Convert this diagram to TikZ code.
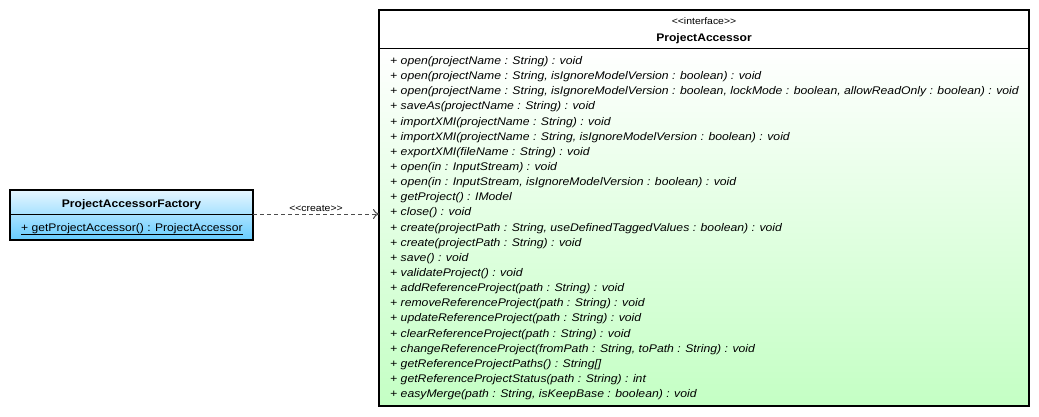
\documentclass[tikz,border=0pt]{standalone}
\usepackage{fontspec}
\setmainfont[FakeStretch=1.1]{Liberation Sans}
\usetikzlibrary{arrows.meta}
\definecolor{blueTop}{HTML}{E6F6FF}
\definecolor{blueBot}{HTML}{66CCFF}
\definecolor{greenBot}{HTML}{C4FFC4}
\begin{document}
\begin{tikzpicture}[x=1pt,y=-1pt,
  box/.style={draw=black,line width=2pt,inner sep=0pt,outer sep=0pt,anchor=north west},
  sepline/.style={draw=black,line width=1pt},
  meth/.style={anchor=base west,inner sep=0pt,font=\fontsize{11.1}{12}\selectfont\itshape},
  stereo/.style={inner sep=0pt,font=\fontsize{9.5}{10}\selectfont},
  cname/.style={inner sep=0pt,font=\fontsize{11}{12}\selectfont\bfseries},
  dep/.style={draw=black!70,line width=1pt,dash pattern=on 4pt off 3pt,-{To[length=6pt,width=10pt]}},
]
\useasboundingbox (0,0) rectangle (1039,416);
% factory class
\node[box, minimum width=243pt, minimum height=50pt, top color=blueTop, bottom color=blueBot] (fac) at (10,190) {};
\draw[sepline] (10,214) -- (253,214);
\node[cname, anchor=base] (facname) at (131.5,207) {ProjectAccessorFactory};
\node[anchor=base west, inner sep=0pt, font=\fontsize{11}{12}\selectfont] (facop) at (21,231) {\underline{+ getProjectAccessor() : ProjectAccessor}};
% interface
\node[box, minimum width=650pt, minimum height=396pt, fill=white] (acc) at (379,10) {};
\shade[top color=white, bottom color=greenBot] (380,48) rectangle (1028,405);
\draw[black,line width=2pt] (379,10) rectangle (1029,406);
\draw[sepline] (379,48) -- (1029,48);
\node[stereo, anchor=base] (st) at (704,24) {{<}{<}interface{>}{>}};
\node[cname, anchor=base] (accname) at (704,41) {ProjectAccessor};
\foreach \t [count=\i] in {
 {+ open(projectName : String) : void},
 {+ open(projectName : String, isIgnoreModelVersion : boolean) : void},
 {+ open(projectName : String, isIgnoreModelVersion : boolean, lockMode : boolean, allowReadOnly : boolean) : void},
 {+ saveAs(projectName : String) : void},
 {+ importXMI(projectName : String) : void},
 {+ importXMI(projectName : String, isIgnoreModelVersion : boolean) : void},
 {+ exportXMI(fileName : String) : void},
 {+ open(in : InputStream) : void},
 {+ open(in : InputStream, isIgnoreModelVersion : boolean) : void},
 {+ getProject() : IModel},
 {+ close() : void},
 {+ create(projectPath : String, useDefinedTaggedValues : boolean) : void},
 {+ create(projectPath : String) : void},
 {+ save() : void},
 {+ validateProject() : void},
 {+ addReferenceProject(path : String) : void},
 {+ removeReferenceProject(path : String) : void},
 {+ updateReferenceProject(path : String) : void},
 {+ clearReferenceProject(path : String) : void},
 {+ changeReferenceProject(fromPath : String, toPath : String) : void},
 {+ getReferenceProjectPaths() : String[]},
 {+ getReferenceProjectStatus(path : String) : int},
 {+ easyMerge(path : String, isKeepBase : boolean) : void}}
 { \node[meth] (m\i) at (390, {64.5+(\i-1)*15.14}) {\t}; }
% dependency
\draw[dep] (fac.east |- 0,214) -- (acc.west |- 0,214) node[midway, above=2pt, stereo] (lbl) {{<}{<}create{>}{>}};
\end{tikzpicture}
\end{document}
